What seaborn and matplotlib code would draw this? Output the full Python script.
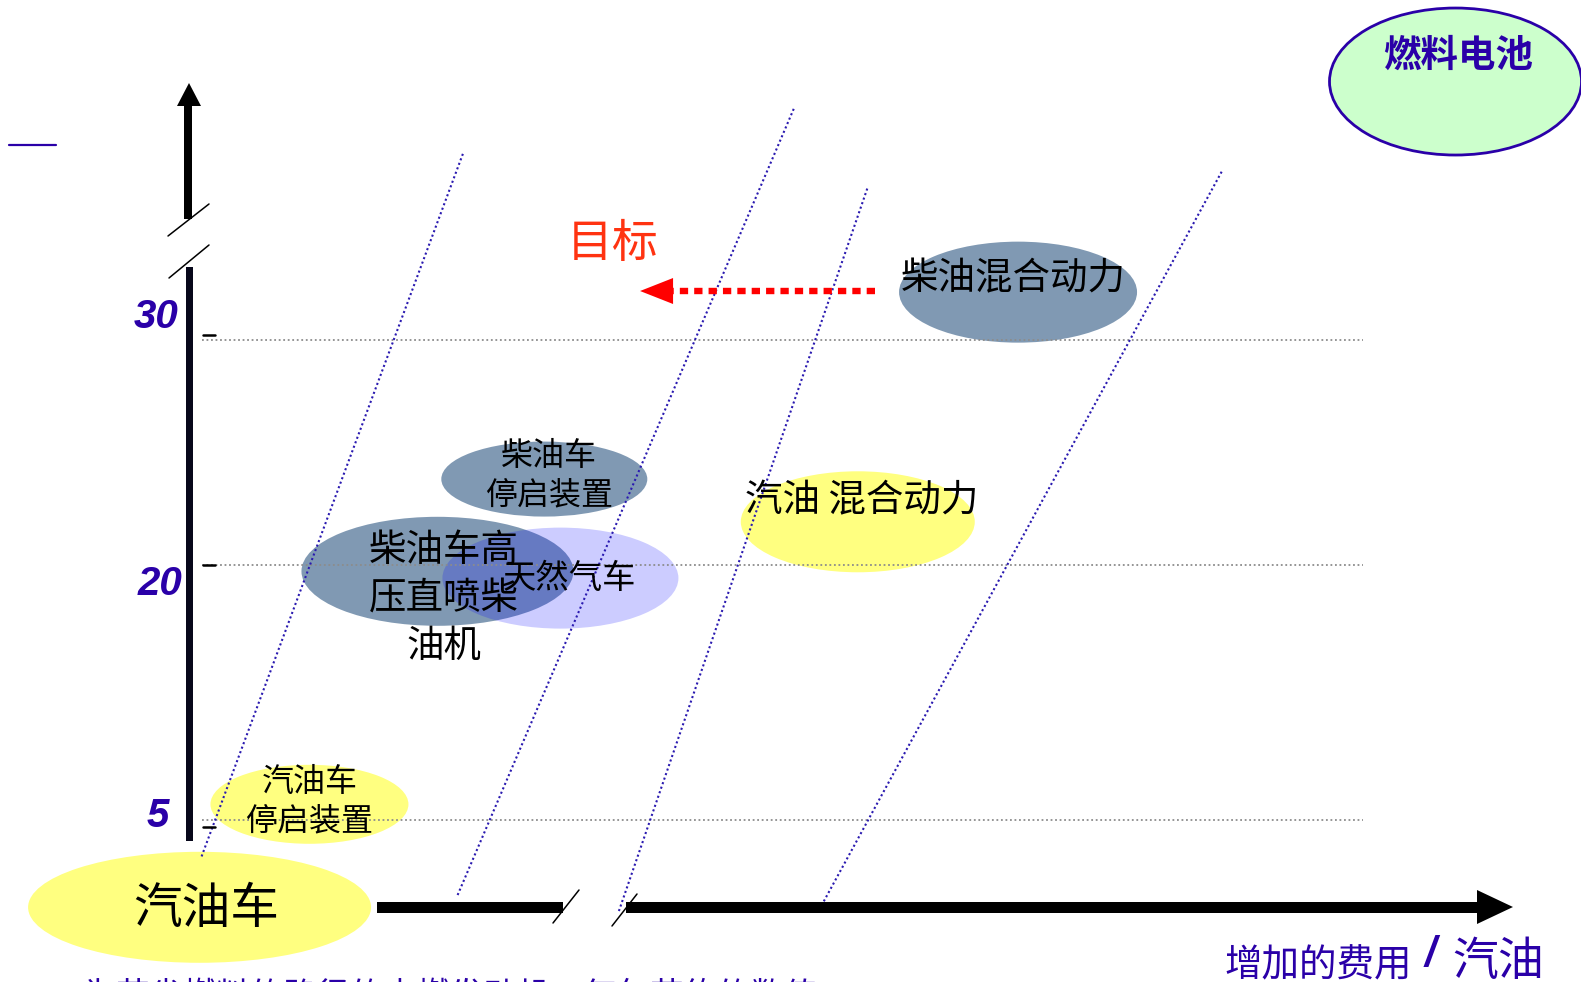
import numpy as np
import pandas as pd
import matplotlib
matplotlib.use("Agg")
import matplotlib.pyplot as plt
import matplotlib.transforms as mtransforms
from matplotlib.patches import Ellipse, Polygon, Rectangle
import seaborn as sns

# 各技术路线：名称、增加的费用（相对值）、节油率（%）
tech_names = ["汽油车", "汽油车\n停启装置", "柴油车高\n压直喷柴\n油机", "天然气车",
              "柴油车\n停启装置", "汽油 混合动力", "柴油混合动力", "燃料电池"]
tech_cost = [0.11, 1.20, 2.47, 3.69, 3.53, 6.64, 8.23, 12.57]
tech_saving = [0.0, 5.9, 19.6, 19.2, 23.8, 21.9, 34.2, 52.8]

saving_levels = [5, 20, 30]
level_labels = ["5", "20", "30"]

# 等费用效益线（起点 / 终点）
iso_cost_start = [0.13, 2.67, 4.27, 6.28]
iso_save_start = [2.9, 0.7, -0.5, 0.1]
iso_cost_end = [2.73, 6.01, 6.74, 10.26]
iso_save_end = [46.6, 50.5, 43.5, 45.0]

target_from = (6.81, 34.3)
target_to = (4.48, 34.3)

W, H = 1581, 982
BLUE = "#2A00A8"
YELLOW = "#FFFF80"
SLATE = "#8099B3"
CJK = ["Noto Sans CJK SC", "DejaVu Sans"]

# 椭圆尺寸(px)、颜色、文字偏移(px)、字号
style = {
    "汽油车": dict(w=343, h=111, fc=YELLOW, dx=7, dy=-2, fs=35),
    "汽油车\n停启装置": dict(w=198, h=79, fc=YELLOW, dx=0, dy=3, fs=23),
    "柴油车高\n压直喷柴\n油机": dict(w=272, h=109, fc=SLATE, dx=6, dy=-27, fs=27),
    "天然气车": dict(w=236, h=101, fc=(0, 0, 1, 0.2), dx=9, dy=0, fs=24),
    "柴油车\n停启装置": dict(w=206, h=75, fc=SLATE, dx=5, dy=3, fs=23),
    "汽油 混合动力": dict(w=234, h=101, fc=YELLOW, dx=4, dy=21, fs=27),
    "柴油混合动力": dict(w=238, h=101, fc=SLATE, dx=-5, dy=13, fs=27),
    "燃料电池": dict(w=252, h=147, fc="#CCFFCC", ec=BLUE, lw=2, dx=3, dy=26,
                 fs=27, color=BLUE, weight="bold"),
}

sns.set_theme(style="white")
plt.rcParams["font.family"] = CJK

fig = plt.figure(figsize=(W / 100, H / 100), dpi=100)
ax = fig.add_axes([0, 0, 1, 1])
ax.set_axis_off()

# 纵轴为分段刻度（有断点）
sav_anchor = np.array([-10, 0, 5, 20, 30, 60])
pos_anchor = np.array([0, 74.7, 162.4, 417.5, 642.3, 982])
ax.set_yscale("function", functions=(lambda v: np.interp(v, sav_anchor, pos_anchor),
                                     lambda p: np.interp(p, pos_anchor, sav_anchor)))
ax.set_xlim(-1.870, 13.815)
ax.set_ylim(-10, 60)
ax.set_autoscale_on(False)

pix = mtransforms.Affine2D().scale(1, -1).translate(0, H)


def at(x, y):
    return mtransforms.ScaledTranslation(x, y, ax.transData)


# 椭圆与标签
for name, c, s in zip(tech_names, tech_cost, tech_saving):
    st = style[name]
    ax.add_patch(Ellipse((0, 0), st["w"], st["h"], transform=at(c, s), fc=st["fc"],
                         ec=st.get("ec", "none"), lw=st.get("lw", 0), zorder=1))
    ax.annotate(name, (c, s), xytext=(st["dx"], st["dy"]), textcoords="offset pixels",
                ha="center", va="center", fontsize=st["fs"], color=st.get("color", "black"),
                weight=st.get("weight", "normal"), linespacing=1.3, zorder=6)

# 水平参考线
grid = pd.DataFrame({"cost": [0.13, 11.65] * len(saving_levels),
                     "saving": np.repeat(saving_levels, 2),
                     "level": np.repeat(level_labels, 2)})
sns.lineplot(data=grid, x="cost", y="saving", units="level", estimator=None, sort=False,
             color="#8C8C8C", lw=1.3, linestyle=(0, (1, 1.5)), legend=False, ax=ax)

# 等效益斜线
iso = pd.DataFrame({"cost": iso_cost_start + iso_cost_end,
                    "saving": iso_save_start + iso_save_end,
                    "line": list(range(len(iso_cost_start))) * 2})
sns.lineplot(data=iso, x="cost", y="saving", units="line", estimator=None, sort=False,
             color="#2A1AB0", lw=1.5, linestyle=(0, (1, 1.3)), legend=False, ax=ax)

# 目标箭头
ax.plot([target_from[0], 4.81], [target_from[1], target_to[1]], color="#FF0000", lw=4.6,
        linestyle=(0, (1.3, 0.95)), dash_capstyle="butt", zorder=4)
ax.add_patch(Polygon([(0, 0), (33, 13), (33, -13)], closed=True, transform=at(*target_to),
                     fc="#FF0000", ec="none", zorder=4))
ax.annotate("目标", target_to, xytext=(-27, 47), textcoords="offset pixels",
            ha="center", va="center", fontsize=33, color="#FF3311", zorder=6)

# 坐标轴（手绘风格，带断点）
k = dict(transform=pix, ec="none", zorder=3)
ax.add_patch(Rectangle((186, 267), 7, 574, fc="#07071A", **k))
ax.add_patch(Rectangle((184, 106), 8, 113, fc="black", **k))
ax.add_patch(Polygon([(177, 106), (201, 106), (189, 83)], fc="black", **k))
ax.add_patch(Rectangle((377, 902), 186, 11, fc="black", **k))
ax.add_patch(Rectangle((626, 902), 851, 11, fc="black", **k))
ax.add_patch(Polygon([(1477, 890), (1477, 924), (1513, 907)], fc="black", **k))
for x0, y0, x1, y1 in [(553, 923, 579, 890), (612, 926, 637, 894),
                       (168, 236, 209, 204), (169, 278, 209, 245)]:
    ax.plot([x0, x1], [y0, y1], color="black", lw=1.1, transform=pix, zorder=3)
for y0 in [335, 565, 827]:
    ax.plot([203, 215], [y0, y0], color="black", lw=1.8, transform=pix, zorder=3)
ax.plot([9, 56], [145, 145], color=BLUE, lw=1.6, transform=pix, zorder=3)

# 纵轴刻度标签
for lab, (x, y) in zip(level_labels, [(169, 816), (182, 584), (178, 317)]):
    ax.text(x, y, lab, transform=pix, ha="right", va="center", fontsize=29, color=BLUE,
            family=["Liberation Sans", "DejaVu Sans"], weight="bold", style="italic")

# 横轴标题
ax.text(1224, 966, "增加的费用", transform=pix, ha="left", va="center", fontsize=27,
        color=BLUE, style="italic")
ax.text(1430, 955, "/", transform=pix, ha="center", va="center", fontsize=30, color=BLUE,
        family=["Liberation Sans", "DejaVu Sans"], weight="bold", style="italic")
ax.text(1452, 962, "汽油", transform=pix, ha="left", va="center", fontsize=33, color=BLUE)

# 底部被截断的说明文字
ax.text(42, 997, "• 为节省燃料的路径的内燃发动机，每年节约的数值", transform=pix,
        ha="left", va="center", fontsize=24, color=BLUE)

fig.savefig("out.png", dpi=100)
